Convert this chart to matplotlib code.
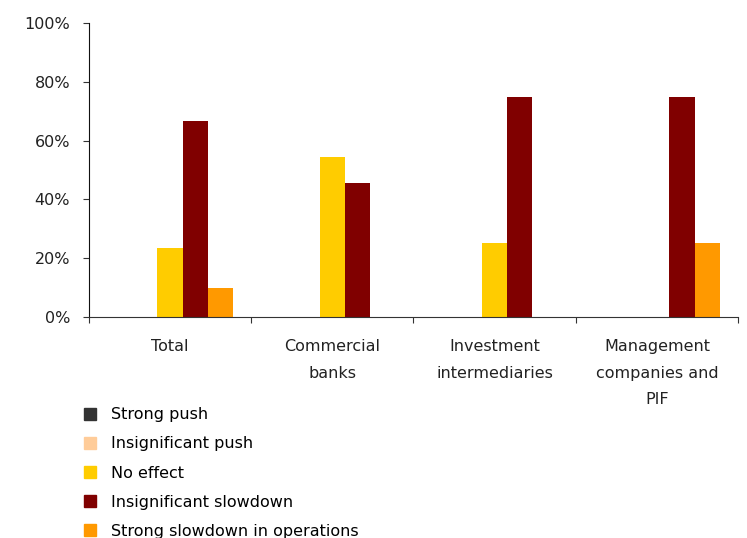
import numpy as np
import matplotlib.pyplot as plt
from matplotlib.lines import Line2D
from matplotlib.ticker import FixedLocator, NullFormatter

plt.rcParams["font.family"] = ["DejaVu Sans"]

categories = ["Total", "Commercial\nbanks", "Investment\nintermediaries",
              "Management\ncompanies and\nPIF"]
series = ["Strong push", "Insignificant push", "No effect",
          "Insignificant slowdown", "Strong slowdown in operations"]
colors = ["#333333", "#FFCC99", "#FFCC00", "#800000", "#FF9900"]

strong_push = [0.0, 0.0, 0.0, 0.0]
insignificant_push = [0.0, 0.0, 0.0, 0.0]
no_effect = [23.3, 54.5, 25.0, 0.0]
insignificant_slowdown = [66.7, 45.5, 75.0, 75.0]
strong_slowdown = [10.0, 0.0, 0.0, 25.0]
values = [strong_push, insignificant_push, no_effect,
          insignificant_slowdown, strong_slowdown]

fig = plt.figure(figsize=(7.47, 5.38), dpi=100)
ax = fig.add_axes([0.119, 0.411, 0.869, 0.546])

x = np.arange(len(categories))
width = 0.155
for i, (vals, col) in enumerate(zip(values, colors)):
    ax.bar(x + (i - 2) * width, vals, width, color=col, linewidth=0)

ax.set_xlim(-0.5, len(categories) - 0.5)
ax.set_ylim(0, 100)
ax.set_yticks(np.arange(0, 101, 20))
ax.set_yticklabels([f"{v}%" for v in range(0, 101, 20)])

# boundaries between groups get the tick marks, centres get the labels
ax.xaxis.set_major_locator(FixedLocator(np.arange(-0.5, len(categories), 1.0)))
ax.xaxis.set_major_formatter(NullFormatter())
ax.xaxis.set_minor_locator(FixedLocator(x))
ax.set_xticklabels(categories, minor=True, linespacing=1.95)
ax.tick_params(axis="x", which="minor", length=0, pad=16, labelsize=11.5,
               colors="#222222")
ax.tick_params(axis="x", which="major", length=4, direction="out",
               color="#333333")
ax.tick_params(axis="y", length=4.5, direction="out", labelsize=11.5,
               pad=9, colors="#222222", color="#333333")

for s in ["top", "right"]:
    ax.spines[s].set_visible(False)
ax.spines["left"].set_color("#111111")
ax.spines["bottom"].set_color("#333333")

handles = [Line2D([], [], marker="s", linestyle="", markersize=9,
                  markerfacecolor=c, markeredgecolor=c) for c in colors]
fig.legend(handles, series, loc="upper left", bbox_to_anchor=(0.101, 0.258),
           frameon=False, fontsize=11.5, handletextpad=0.9,
           labelspacing=0.89, borderpad=0, handlelength=0.8)

fig.savefig("out.png", dpi=100)
